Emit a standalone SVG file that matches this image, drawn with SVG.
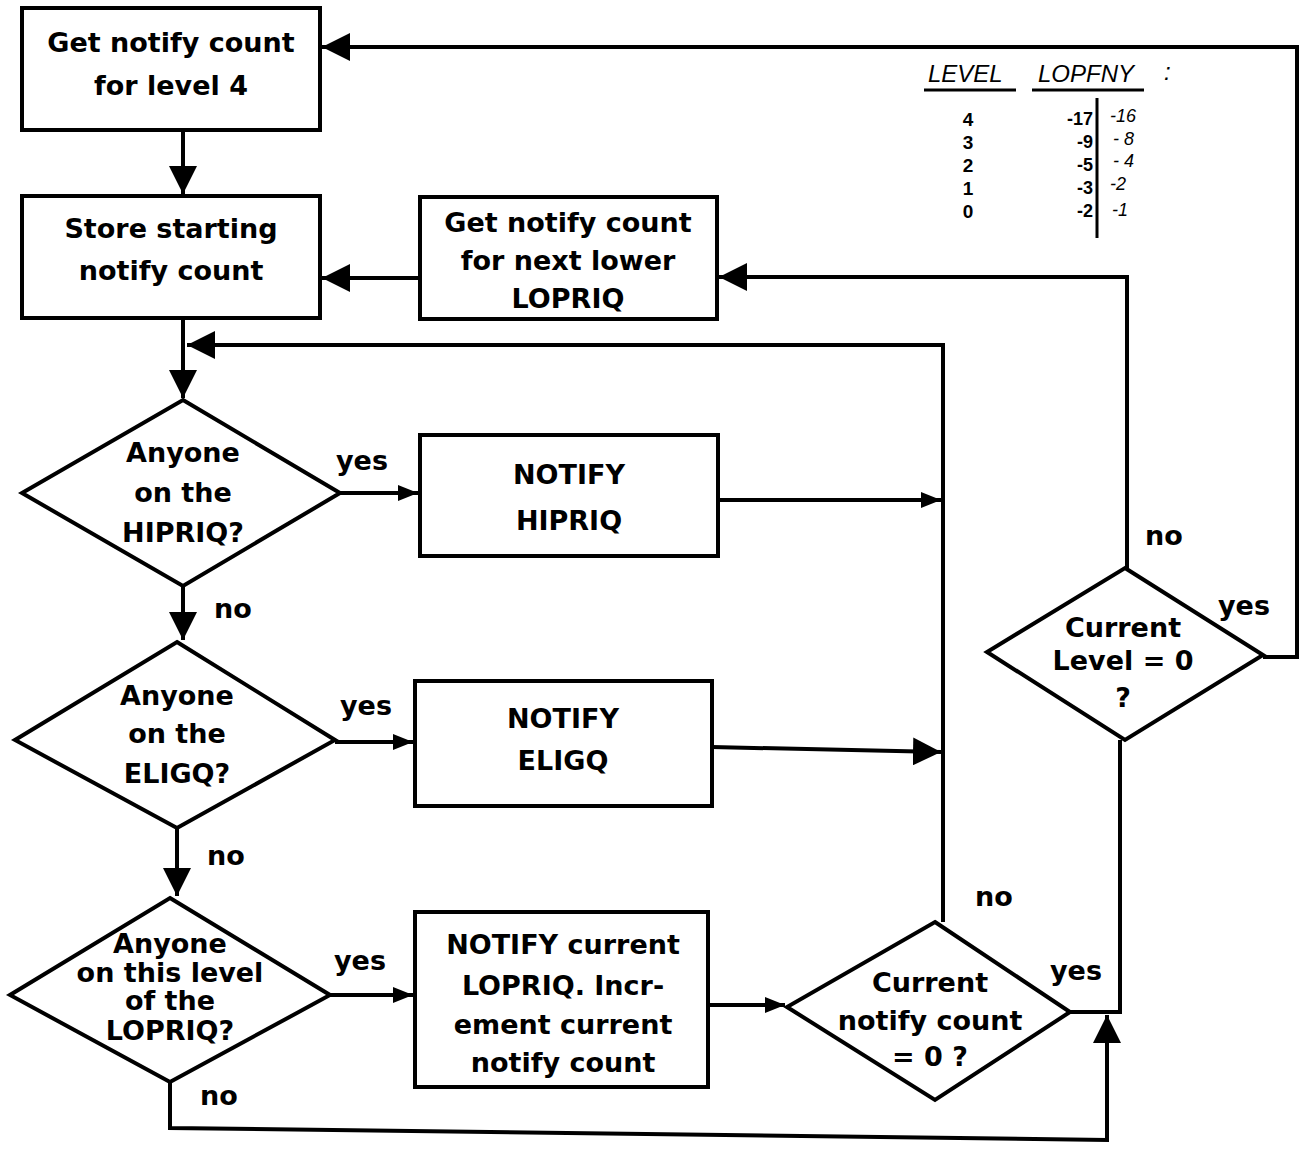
<svg xmlns="http://www.w3.org/2000/svg" width="1299" height="1153" viewBox="0 0 1299 1153">
<defs>
<marker id="ah" viewBox="0 0 10 10" refX="10" refY="5" markerWidth="7" markerHeight="7" markerUnits="strokeWidth" orient="auto"><path d="M0,0 L10,5 L0,10 z" fill="#000"/></marker>
<marker id="ahs" viewBox="0 0 10 10" refX="10" refY="5" markerWidth="5" markerHeight="5" markerUnits="strokeWidth" orient="auto"><path d="M0,1 L10,5 L0,9 z" fill="#000"/></marker>
</defs>
<style>
.b{fill:#fff;stroke:#000;stroke-width:4}
.t{font-family:"DejaVu Sans",sans-serif;font-weight:bold;font-size:27px;text-anchor:middle;fill:#000}
.l{font-family:"DejaVu Sans",sans-serif;font-weight:bold;font-size:27px;fill:#000}
.c{fill:none;stroke:#000;stroke-width:4}
.h{font-family:"Liberation Sans",sans-serif;font-style:italic;font-size:24px;fill:#000}
.hr{font-family:"Liberation Sans",sans-serif;font-style:italic;font-size:18px;fill:#000}
.hn{font-family:"Liberation Sans",sans-serif;font-weight:bold;font-size:19px;fill:#000;text-anchor:middle}
.hm{font-family:"Liberation Sans",sans-serif;font-weight:bold;font-size:18px;fill:#000;text-anchor:end}
</style>
<rect width="1299" height="1153" fill="#fff"/>
<g id="connectors">
<path class="c" d="M183,130 V194" marker-end="url(#ah)"/>
<path class="c" d="M420,278 H322" marker-end="url(#ah)"/>
<path class="c" d="M1127,568 V277 H719" marker-end="url(#ah)"/>
<path class="c" d="M183,318 V398" marker-end="url(#ah)"/>
<path class="c" d="M943,922 V345 H187" marker-end="url(#ah)"/>
<path class="c" d="M340,493 H418" marker-end="url(#ahs)"/>
<path class="c" d="M718,500 H941" marker-end="url(#ahs)"/>
<path class="c" d="M183,586 V640" marker-end="url(#ah)"/>
<path class="c" d="M335,742 H413" marker-end="url(#ahs)"/>
<path class="c" d="M712,747 L941,752" marker-end="url(#ah)"/>
<path class="c" d="M177,828 V896" marker-end="url(#ah)"/>
<path class="c" d="M330,995 H413" marker-end="url(#ahs)"/>
<path class="c" d="M708,1005 H785" marker-end="url(#ahs)"/>
<path class="c" d="M1070,1012 H1120 V740"/>
<path class="c" d="M170,1082 V1128 L1107,1140 V1015" marker-end="url(#ah)"/>
<path class="c" d="M1263,657 H1297 V47 H322" marker-end="url(#ah)"/>
</g>
<g id="n1"><rect class="b" x="22" y="8" width="298" height="122"/><text class="t" x="171" y="52">Get notify count</text><text class="t" x="171" y="95">for level 4</text></g>
<g id="n2"><rect class="b" x="22" y="196" width="298" height="122"/><text class="t" x="171" y="238">Store starting</text><text class="t" x="171" y="280">notify count</text></g>
<g id="n3"><rect class="b" x="420" y="197" width="297" height="122"/><text class="t" x="568" y="232">Get notify count</text><text class="t" x="568" y="270">for next lower</text><text class="t" x="568" y="308">LOPRIQ</text></g>
<g id="d1"><polygon class="b" points="183,400 340,493 183,586 22,493"/><text class="t" x="183" y="462">Anyone</text><text class="t" x="183" y="502">on the</text><text class="t" x="183" y="542">HIPRIQ?</text></g>
<g id="n4"><rect class="b" x="420" y="435" width="298" height="121"/><text class="t" x="569" y="484">NOTIFY</text><text class="t" x="569" y="530">HIPRIQ</text></g>
<g id="d2"><polygon class="b" points="177,642 335,740 177,828 15,740"/><text class="t" x="177" y="705">Anyone</text><text class="t" x="177" y="743">on the</text><text class="t" x="177" y="783">ELIGQ?</text></g>
<g id="n5"><rect class="b" x="415" y="681" width="297" height="125"/><text class="t" x="563" y="728">NOTIFY</text><text class="t" x="563" y="770">ELIGQ</text></g>
<g id="d3"><polygon class="b" points="170,898 330,995 170,1082 10,995"/><text class="t" x="170" y="953">Anyone</text><text class="t" x="170" y="982">on this level</text><text class="t" x="170" y="1010">of the</text><text class="t" x="170" y="1040">LOPRIQ?</text></g>
<g id="n6"><rect class="b" x="415" y="912" width="293" height="175"/><text class="t" x="563" y="954">NOTIFY current</text><text class="t" x="563" y="995">LOPRIQ.  Incr-</text><text class="t" x="563" y="1034">ement current</text><text class="t" x="563" y="1072">notify count</text></g>
<g id="d4"><polygon class="b" points="935,922 1070,1012 935,1100 787,1007"/><text class="t" x="930" y="992">Current</text><text class="t" x="930" y="1030">notify count</text><text class="t" x="930" y="1066">= 0 ?</text></g>
<g id="d5"><polygon class="b" points="1125,568 1263,655 1125,740 987,652"/><text class="t" x="1123" y="637">Current</text><text class="t" x="1123" y="670">Level = 0</text><text class="t" x="1123" y="707">?</text></g>
<g id="labels">
<text class="l" x="336" y="470">yes</text>
<text class="l" x="214" y="618">no</text>
<text class="l" x="340" y="715">yes</text>
<text class="l" x="207" y="865">no</text>
<text class="l" x="334" y="970">yes</text>
<text class="l" x="200" y="1105">no</text>
<text class="l" x="975" y="906">no</text>
<text class="l" x="1050" y="980">yes</text>
<text class="l" x="1145" y="545">no</text>
<text class="l" x="1218" y="615">yes</text>
</g>
<g id="table">
<text class="h" x="928" y="82">LEVEL</text>
<line x1="924" y1="90" x2="1016" y2="90" stroke="#000" stroke-width="3"/>
<text class="h" x="1038" y="82">LOPFNY</text>
<line x1="1032" y1="90" x2="1144" y2="90" stroke="#000" stroke-width="3"/>
<text class="h" x="1164" y="80">:</text>
<text class="hn" x="968" y="126">4</text>
<text class="hn" x="968" y="149">3</text>
<text class="hn" x="968" y="172">2</text>
<text class="hn" x="968" y="195">1</text>
<text class="hn" x="968" y="218">0</text>
<text class="hm" x="1093" y="125">-17</text>
<text class="hm" x="1093" y="148">-9</text>
<text class="hm" x="1093" y="171">-5</text>
<text class="hm" x="1093" y="194">-3</text>
<text class="hm" x="1093" y="217">-2</text>
<line x1="1097" y1="98" x2="1097" y2="238" stroke="#000" stroke-width="3"/>
<text class="hr" x="1110" y="122">-16</text>
<text class="hr" x="1113" y="145">- 8</text>
<text class="hr" x="1113" y="167">- 4</text>
<text class="hr" x="1110" y="190">-2</text>
<text class="hr" x="1112" y="216">-1</text>
</g>
</svg>
